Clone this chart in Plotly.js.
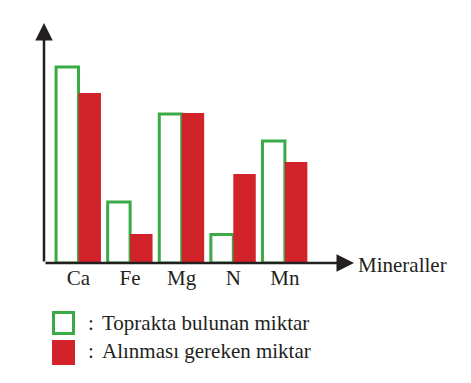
<!DOCTYPE html>
<html>
<head>
<meta charset="utf-8">
<script src="https://cdn.plot.ly/plotly-3.0.1.min.js"></script>
<style>html,body{margin:0;padding:0;background:#fff}#chart{width:471px;height:383px}</style>
</head>
<body>
<div id="chart"></div>
<script>
// Data (relative amounts)
const minerals = ["Ca", "Fe", "Mg", "N", "Mn"];
const soilAmount = [19.6, 6.1, 14.9, 2.85, 12.2];      // Toprakta bulunan miktar
const neededAmount = [17.0, 2.9, 15.0, 8.9, 10.1];     // Alınması gereken miktar
const legendLabels = ["Toprakta bulunan miktar", "Alınması gereken miktar"];
const axisTitleX = "Mineraller";

const GREEN = "#3aaa47";
const RED = "#d2232a";
const INK = "#231f20";
const FONT = "Liberation Serif";

// plot area geometry in pixels
const L = 44, R = 354, T = 23, B = 263, W = 471, H = 383;
const px = x => (x - L) / (R - L);
const py = y => (B - y) / (B - T);

const traces = [
  {
    type: "bar", x: minerals, y: soilAmount, name: legendLabels[0],
    marker: {color: "#ffffff", line: {color: GREEN, width: 3}},
    hoverinfo: "skip"
  },
  {
    type: "bar", x: minerals, y: neededAmount, name: legendLabels[1],
    marker: {color: RED, line: {width: 0}},
    hoverinfo: "skip"
  }
];

const annotations = [
  {xref: "paper", yref: "paper", x: 0, y: 1, ax: 0, ay: B - T, axref: "pixel", ayref: "pixel",
   text: "", showarrow: true, arrowhead: 2, arrowsize: 1.4, arrowwidth: 2.5, arrowcolor: INK},
  {xref: "paper", yref: "paper", x: 1, y: 0, ax: -(R - L), ay: 0, axref: "pixel", ayref: "pixel",
   text: "", showarrow: true, arrowhead: 2, arrowsize: 1.4, arrowwidth: 2.5, arrowcolor: INK},
  {xref: "paper", yref: "paper", x: px(356), y: py(265), xanchor: "left", yanchor: "middle",
   text: axisTitleX, showarrow: false, font: {family: FONT, size: 21, color: INK}},
  {xref: "paper", yref: "paper", x: px(86), y: py(323), xanchor: "left", yanchor: "middle",
   text: ":", showarrow: false, font: {family: FONT, size: 21, color: INK}},
  {xref: "paper", yref: "paper", x: px(100), y: py(323), xanchor: "left", yanchor: "middle",
   text: legendLabels[0], showarrow: false, font: {family: FONT, size: 21, color: INK}},
  {xref: "paper", yref: "paper", x: px(86), y: py(351), xanchor: "left", yanchor: "middle",
   text: ":", showarrow: false, font: {family: FONT, size: 21, color: INK}},
  {xref: "paper", yref: "paper", x: px(100), y: py(351), xanchor: "left", yanchor: "middle",
   text: legendLabels[1], showarrow: false, font: {family: FONT, size: 21, color: INK}}
];

const shapes = [
  {type: "rect", xref: "paper", yref: "paper", x0: px(53.5), x1: px(73.5), y0: py(312.5), y1: py(333.5),
   line: {color: GREEN, width: 3}, fillcolor: "#ffffff"},
  {type: "rect", xref: "paper", yref: "paper", x0: px(52), x1: px(75), y0: py(340), y1: py(365),
   line: {width: 0}, fillcolor: RED}
];

const layout = {
  width: W, height: H,
  margin: {l: L, r: W - R, t: T, b: H - B, pad: 0},
  paper_bgcolor: "#ffffff", plot_bgcolor: "#ffffff",
  barmode: "group", bargap: 0.13, bargroupgap: 0,
  showlegend: false,
  font: {family: FONT, color: INK},
  xaxis: {
    type: "category", range: [-0.669, 5.339], showgrid: false, zeroline: false,
    showline: false, ticks: "", tickfont: {family: FONT, size: 21, color: INK},
    fixedrange: true
  },
  yaxis: {
    range: [0, 24], showgrid: false, zeroline: false, showline: false,
    showticklabels: false, ticks: "", fixedrange: true
  },
  annotations: annotations,
  shapes: shapes
};

Plotly.newPlot("chart", traces, layout, {staticPlot: true, displayModeBar: false});
</script>
</body>
</html>
